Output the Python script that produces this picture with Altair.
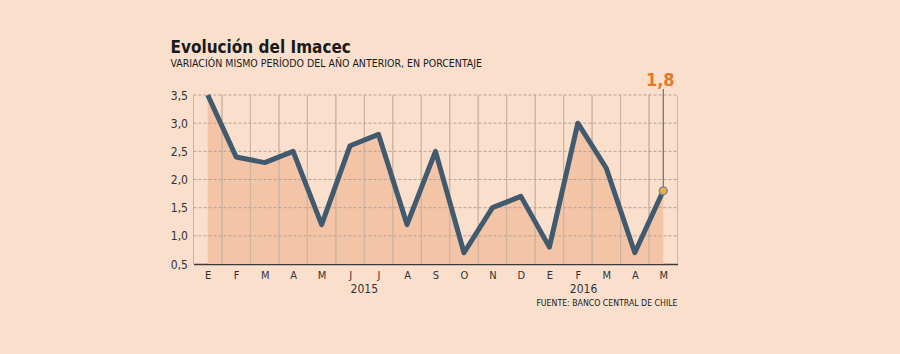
import altair as alt
import pandas as pd

months = ["E", "F", "M", "A", "M", "J", "J", "A", "S", "O", "N", "D", "E", "F", "M", "A", "M"]
values = [3.5, 2.4, 2.3, 2.5, 1.2, 2.6, 2.8, 1.2, 2.5, 0.7, 1.5, 1.7, 0.8, 3.0, 2.2, 0.7, 1.8]
y_ticks = [0.5, 1.0, 1.5, 2.0, 2.5, 3.0, 3.5]
years = ["2015", "2016"]
year_pos = [5.5, 13.2]

title = "Evolución del Imacec"
subtitle = "VARIACIÓN MISMO PERÍODO DEL AÑO ANTERIOR, EN PORCENTAJE"
source = "FUENTE: BANCO CENTRAL DE CHILE"

FONT = "DejaVu Sans Condensed, DejaVu Sans"
BG = "#f9dfcc"

df = pd.DataFrame({"idx": list(range(len(values))), "month": months, "value": values})
grid_df = pd.DataFrame({"y": y_ticks[1:]})
year_df = pd.DataFrame({"year": years, "pos": year_pos})

n = len(values)
xscale = alt.Scale(domain=[-0.5, n - 0.5], nice=False, zero=False)
yscale = alt.Scale(domain=[0.5, 3.5], nice=False, zero=False)

month_arr = "[" + ",".join("'" + m + "'" for m in months) + "]"

xaxis = alt.Axis(values=list(range(n)), labelExpr=month_arr + "[datum.value]",
                 title=None, ticks=False, grid=False, domain=True,
                 domainColor="#3a3a3a", domainWidth=1.5, labelPadding=5,
                 labelOverlap=False, labelBound=False,
                 labelFontSize=11, labelColor="#333333", labelFont=FONT)
yaxis = alt.Axis(values=y_ticks,
                 labelExpr="replace(format(datum.value, '.1f'), '.', ',')",
                 title=None, ticks=False, grid=False, domain=False,
                 labelOverlap=False, labelBound=False,
                 labelPadding=6, labelFontSize=12, labelColor="#333333",
                 labelFont=FONT)

X = alt.X("idx:Q", scale=xscale, axis=xaxis)
Y = alt.Y("value:Q", scale=yscale, axis=yaxis)

base = alt.Chart(df)

area = base.mark_area(color="#f3c4a6", opacity=1).encode(x=X, y=Y, y2=alt.datum(0.5))

vgrid = base.transform_calculate(a="datum.idx - 0.5", b="datum.idx + 0.5").transform_fold(
    ["a", "b"], as_=["k", "g"]
).mark_rule(color="#cdb4a1", strokeWidth=1).encode(
    x=alt.X("g:Q", scale=xscale, axis=xaxis),
    y=alt.value(0),
    y2=alt.value(169),
)

hgrid = alt.Chart(grid_df).mark_rule(color="#b3a396", strokeWidth=1, strokeDash=[3, 2]).encode(
    y=alt.Y("y:Q", scale=yscale, axis=yaxis),
    x=alt.value(0),
    x2=alt.value(484),
)

line = base.mark_line(color="#415a6e", strokeWidth=5, strokeJoin="round", strokeCap="butt").encode(
    x=X, y=Y,
)

last = base.transform_filter(f"datum.idx == {n - 1}").transform_calculate(
    lbl="replace(format(datum.value, '.1f'), '.', ',')"
)

callout_rule = last.mark_rule(color="#555555", strokeWidth=1).encode(
    x=X, y=Y, y2=alt.value(-6),
)

point = last.mark_point(filled=True, fill="#f2b134", stroke="#7f8b96", strokeWidth=1.5,
                        size=60, opacity=1).encode(x=X, y=Y)

callout_text = last.mark_text(color="#e5782a", fontSize=18, fontWeight="bold", font=FONT,
                              baseline="alphabetic", align="center", dx=-3).encode(
    x=X,
    y=alt.value(-9),
    text="lbl:N",
)

year_text = alt.Chart(year_df).mark_text(fontSize=12, font=FONT, color="#333333",
                                         baseline="alphabetic", align="center").encode(
    x=alt.X("pos:Q", scale=xscale, axis=xaxis),
    y=alt.value(198),
    text="year:N",
)

title_text = alt.Chart(pd.DataFrame({"t": [title]})).mark_text(
    fontSize=17, fontWeight="bold", font=FONT, color="#1a1a1a", align="left", baseline="alphabetic"
).encode(x=alt.value(-23), y=alt.value(-42), text="t:N")

subtitle_text = alt.Chart(pd.DataFrame({"t": [subtitle]})).mark_text(
    fontSize=10.5, font=FONT, color="#1a1a1a", align="left", baseline="alphabetic"
).encode(x=alt.value(-23), y=alt.value(-28), text="t:N")

source_text = alt.Chart(pd.DataFrame({"t": [source]})).mark_text(
    fontSize=8.7, font=FONT, color="#1a1a1a", align="right", baseline="alphabetic"
).encode(x=alt.value(484), y=alt.value(211), text="t:N")

chart = alt.layer(
    area, vgrid, hgrid, line, callout_rule, point, callout_text,
    year_text, title_text, subtitle_text, source_text
).properties(
    width=484, height=169,
    background=BG,
    autosize=alt.AutoSizeParams(type="none"),
    padding={"left": 193.5, "top": 95, "right": 222.5, "bottom": 90},
).configure_view(stroke=None, fill=BG).configure_axis(labelOverlap=False)

chart.save("out.html", embed_options={"renderer": "svg", "actions": False})
